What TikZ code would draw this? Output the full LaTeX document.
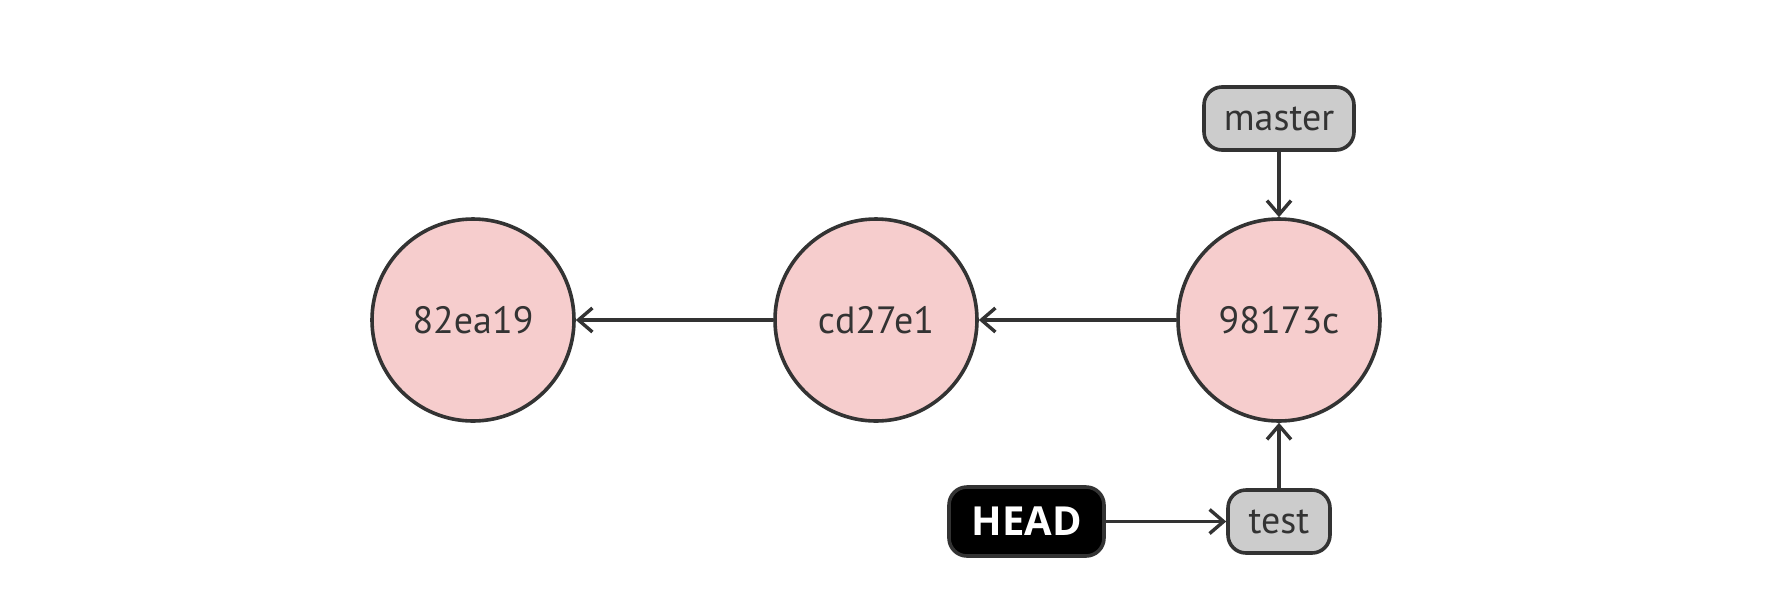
\documentclass[tikz,border=0pt]{standalone}
\usepackage{fontspec}
\setmainfont{PT Sans}
\newfontfamily\headfont{Open Sans}
\usetikzlibrary{arrows.meta}
\definecolor{edge}{HTML}{333333}
\definecolor{commitfill}{HTML}{F6CDCD}
\definecolor{reffill}{HTML}{CCCCCC}
\tikzset{
  commit/.style={circle, draw=edge, fill=commitfill, line width=1.8pt, minimum size=101pt, inner sep=0pt, font=\fontsize{19}{22}\selectfont, text=edge},
  refbox/.style={draw=edge, fill=reffill, line width=1.8pt, rounded corners=9pt, inner sep=0pt, minimum height=31.5pt, font=\fontsize{19}{22}\selectfont, text=edge},
  headbox/.style={draw=edge, fill=black, line width=1.8pt, rounded corners=9pt, inner sep=0pt, minimum height=34.5pt, minimum width=77.5pt, font=\headfont\fontsize{20}{22}\bfseries\selectfont, text=white},
  link/.style={draw=edge, line width=1.7pt, -{Straight Barb[length=7pt,width=12pt,line width=1.7pt]}}
}
\begin{document}
\begin{tikzpicture}[x=0.5pt,y=-0.5pt]
\useasboundingbox (0,0) rectangle (1790,612);
\node[commit] (c1) at (473,320) {82ea19};
\node[commit] (c2) at (876,320) {cd27e1};
\node[commit] (c3) at (1279,320) {98173c};
\node[refbox, minimum width=75pt] (master) at (1279,118.5) {master};
\node[refbox, minimum width=51pt] (test) at (1279,521.5) {test};
\node[headbox] (head) at (1026.5,521.5) {HEAD};
\draw[link] (c2) -- (c1);
\draw[link] (c3) -- (c2);
\draw[link] (master) -- (c3);
\draw[link] (test) -- (c3);
\draw[link] (head) -- (test);
\end{tikzpicture}
\end{document}
